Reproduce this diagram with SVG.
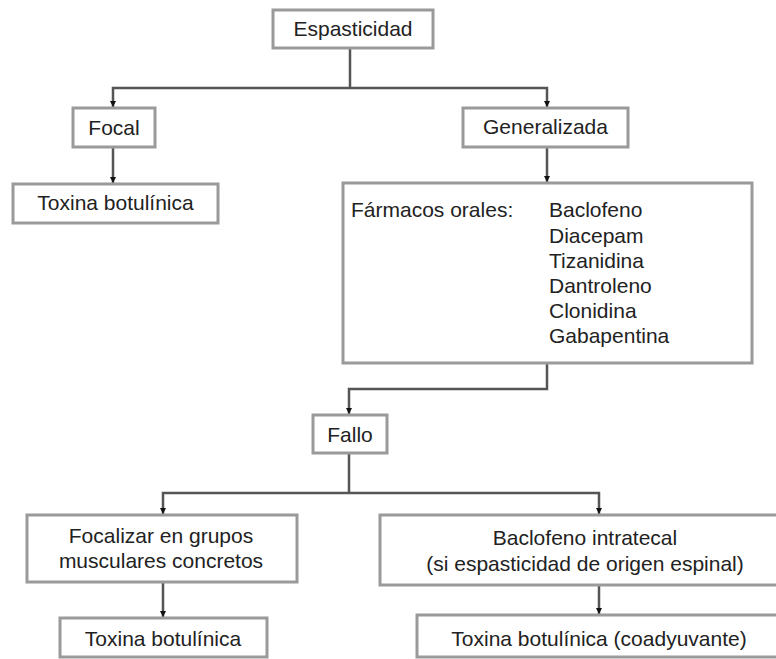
<svg xmlns="http://www.w3.org/2000/svg" width="776" height="659" viewBox="0 0 776 659">
<defs>
<marker id="ah" markerUnits="userSpaceOnUse" markerWidth="8" markerHeight="8" refX="6" refY="3" orient="auto">
<path d="M0,0 L6,3 L0,6 z" fill="#111"/>
</marker>
<style>
.box{fill:#fff;stroke:#9a9a9a;stroke-width:3}
.t{font-family:"Liberation Sans",Arial,sans-serif;font-size:21px;fill:#222}
.c{text-anchor:middle}
.ln{fill:none;stroke:#555;stroke-width:2.5}
</style>
</defs>
<rect width="776" height="659" fill="#fff"/>
<g id="connectors">
<path class="ln" d="M350,48 V88"/>
<path class="ln" d="M350,88 H113 V107" marker-end="url(#ah)"/>
<path class="ln" d="M350,88 H547 V107" marker-end="url(#ah)"/>
<path class="ln" d="M113,147 V183" marker-end="url(#ah)"/>
<path class="ln" d="M547,147 V182" marker-end="url(#ah)"/>
<path class="ln" d="M547,363 V389 H349 V414" marker-end="url(#ah)"/>
<path class="ln" d="M349,453 V493"/>
<path class="ln" d="M349,493 H163 V514" marker-end="url(#ah)"/>
<path class="ln" d="M349,493 H599 V514" marker-end="url(#ah)"/>
<path class="ln" d="M163,582 V617" marker-end="url(#ah)"/>
<path class="ln" d="M599,585 V614" marker-end="url(#ah)"/>
</g>
<g id="espasticidad">
<rect class="box" x="273" y="10" width="160" height="38"/>
<text class="t c" x="353" y="36">Espasticidad</text>
</g>
<g id="focal">
<rect class="box" x="73" y="108" width="82" height="39"/>
<text class="t c" x="114" y="135">Focal</text>
</g>
<g id="generalizada">
<rect class="box" x="463" y="108" width="165" height="39"/>
<text class="t c" x="545.5" y="134">Generalizada</text>
</g>
<g id="toxina1">
<rect class="box" x="13" y="184" width="205" height="39"/>
<text class="t c" x="115.5" y="210">Toxina botulínica</text>
</g>
<g id="farmacos">
<rect class="box" x="343" y="183" width="409" height="180"/>
<text class="t" x="351" y="217">Fármacos orales:</text>
<text class="t" x="549" y="217">Baclofeno</text>
<text class="t" x="549" y="243">Diacepam</text>
<text class="t" x="549" y="268">Tizanidina</text>
<text class="t" x="549" y="293">Dantroleno</text>
<text class="t" x="549" y="318">Clonidina</text>
<text class="t" x="549" y="343">Gabapentina</text>
</g>
<g id="fallo">
<rect class="box" x="313" y="415" width="74" height="38"/>
<text class="t c" x="350" y="442">Fallo</text>
</g>
<g id="focalizar">
<rect class="box" x="27" y="515" width="270" height="67"/>
<text class="t c" x="161" y="543">Focalizar en grupos</text>
<text class="t c" x="161" y="568">musculares concretos</text>
</g>
<g id="baclofeno-it">
<rect class="box" x="380" y="515" width="410" height="70"/>
<text class="t c" x="585" y="545">Baclofeno intratecal</text>
<text class="t c" x="585" y="571">(si espasticidad de origen espinal)</text>
</g>
<g id="toxina2">
<rect class="box" x="60" y="618" width="207" height="39"/>
<text class="t c" x="163" y="646">Toxina botulínica</text>
</g>
<g id="toxina3">
<rect class="box" x="417" y="615" width="366" height="42"/>
<text class="t c" x="599" y="646">Toxina botulínica (coadyuvante)</text>
</g>
</svg>
